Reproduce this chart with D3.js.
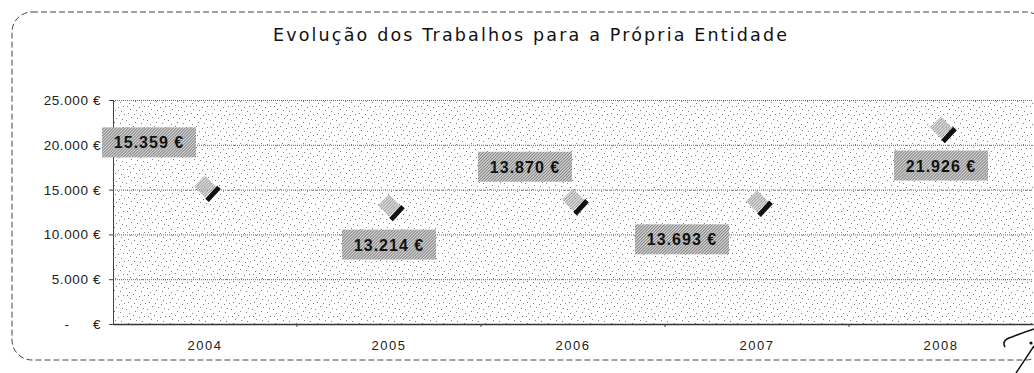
<!DOCTYPE html>
<html>
<head>
<meta charset="utf-8">
<script src="https://cdn.jsdelivr.net/npm/d3@7"></script>
<style>
  html, body { margin: 0; padding: 0; background: #fff; }
  svg { display: block; }
</style>
</head>
<body>
<svg id="chart" width="1034" height="373"></svg>
<script>
// Trabalhos para a própria entidade, por ano (euros)
const categories = ["2004", "2005", "2006", "2007", "2008"];
const values = [15359, 13214, 13870, 13693, 21926];
const yTicks = [0, 5000, 10000, 15000, 20000, 25000];
const titleText = "Evolução dos Trabalhos para a Própria Entidade";

// where each value label sits relative to its marker (px)
const labelShift = [[-56, -44], [0, 39], [-48, -33], [-75, 38], [0, 38]];

const svg = d3.select("#chart");
const plot = { left: 113, right: 1033, top: 100, bottom: 324 };

const fmt = v => v === 0 ? "-" : d3.format(",")(v).replace(/,/g, ".");

// halftone textures
const defs = svg.append("defs");
const stippleDots = [
  [1, 1], [7, 0], [13, 2], [18, 1], [4, 4], [10, 5], [16, 6], [2, 8], [8, 9],
  [14, 10], [19, 9], [5, 12], [11, 13], [17, 14], [0, 15], [9, 17], [15, 18], [3, 19]
];
const light = defs.append("pattern").attr("id", "stipple").attr("width", 21).attr("height", 21)
  .attr("patternUnits", "userSpaceOnUse");
light.append("rect").attr("width", 21).attr("height", 21).attr("fill", "#fff");
stippleDots.forEach(([x, y]) =>
  light.append("rect").attr("x", x).attr("y", y).attr("width", 1).attr("height", 1).attr("fill", "#808080"));

const dense = defs.append("pattern").attr("id", "screen").attr("width", 3).attr("height", 3)
  .attr("patternUnits", "userSpaceOnUse");
dense.append("rect").attr("width", 3).attr("height", 3).attr("fill", "#d0d0d0");
[[0, 0], [2, 1], [1, 2]].forEach(([x, y]) =>
  dense.append("rect").attr("x", x).attr("y", y).attr("width", 1).attr("height", 1).attr("fill", "#707070"));

// rounded dashed frame
svg.append("rect")
  .attr("x", 12).attr("y", 12).attr("width", 1034).attr("height", 348)
  .attr("rx", 20).attr("ry", 20)
  .attr("fill", "none").attr("stroke", "#444").attr("stroke-width", 1)
  .attr("stroke-dasharray", "6,3");

// title
svg.append("text")
  .attr("x", 530).attr("y", 41)
  .attr("text-anchor", "middle")
  .attr("font-family", "'DejaVu Sans', sans-serif")
  .attr("font-size", 17.5)
  .attr("textLength", 514).attr("lengthAdjust", "spacing")
  .attr("fill", "#111")
  .text(titleText);

const x = d3.scaleBand().domain(categories).range([plot.left, plot.right]);
const y = d3.scaleLinear().domain([0, 25000]).range([plot.bottom, plot.top]);

// plot background
svg.append("rect")
  .attr("x", plot.left).attr("y", plot.top)
  .attr("width", plot.right - plot.left).attr("height", plot.bottom - plot.top)
  .attr("fill", "url(#stipple)");

// gridlines
svg.append("g").selectAll("line").data(yTicks.filter(d => d > 0)).join("line")
  .attr("x1", plot.left).attr("x2", plot.right)
  .attr("y1", d => y(d) + 0.5).attr("y2", d => y(d) + 0.5)
  .attr("stroke", "#666").attr("stroke-dasharray", "1,1");

// y axis
const yAxis = svg.append("g").attr("transform", `translate(${plot.left},0)`)
  .call(d3.axisLeft(y).tickValues(yTicks).tickSize(4).tickFormat(() => ""));
yAxis.select(".domain").attr("stroke", "#444");
yAxis.selectAll(".tick line").attr("stroke", "#444");
const tickFont = { family: "'Liberation Sans', Arial, sans-serif", size: 13.5 };
const yl = svg.append("g")
  .attr("font-family", tickFont.family).attr("font-size", tickFont.size)
  .attr("letter-spacing", 0.6).attr("fill", "#222");
yTicks.forEach(t => {
  if (t === 0) {
    yl.append("text").attr("x", 67).attr("y", y(t) + 5).attr("text-anchor", "middle").text(fmt(t));
    yl.append("text").attr("x", 101).attr("y", y(t) + 5).attr("text-anchor", "end").text("€");
  } else {
    yl.append("text").attr("x", 101).attr("y", y(t) + 5).attr("text-anchor", "end").text(fmt(t) + " €");
  }
});

// x axis
const xAxis = svg.append("g").attr("transform", `translate(0,${plot.bottom})`)
  .call(d3.axisBottom(x).tickSize(0).tickPadding(17));
xAxis.select(".domain").attr("stroke", "#333").attr("stroke-width", 1.5);
xAxis.selectAll(".tick text")
  .attr("font-family", tickFont.family)
  .attr("font-size", 13).attr("letter-spacing", 1.5).attr("fill", "#222");
// ticks between categories
svg.append("g").selectAll("line").data(categories.slice(1)).join("line")
  .attr("x1", d => x(d)).attr("x2", d => x(d))
  .attr("y1", plot.bottom).attr("y2", plot.bottom + 3)
  .attr("stroke", "#444");

// diamond markers
const pts = categories.map((c, i) => ({ c, v: values[i], cx: x(c) + x.bandwidth() / 2, cy: y(values[i]), i }));
const mk = svg.append("g").selectAll("g").data(pts).join("g")
  .attr("transform", d => `translate(${d.cx},${d.cy})`);
const r = 11;
mk.append("path")
  .attr("d", `M0,${-r}L${r},0L0,${r}L${-r},0Z`)
  .attr("fill", "url(#screen)").attr("opacity", 0.75);
mk.append("line")
  .attr("x1", r + 3).attr("y1", 1).attr("x2", 2).attr("y2", r + 3)
  .attr("stroke", "#111").attr("stroke-width", 5);

// value labels
const lab = svg.append("g").selectAll("g").data(pts).join("g")
  .attr("transform", d => `translate(${d.cx + labelShift[d.i][0]},${d.cy + labelShift[d.i][1]})`);
lab.append("rect")
  .attr("x", -47).attr("y", -15).attr("width", 94).attr("height", 30)
  .attr("fill", "url(#screen)");
lab.append("text")
  .attr("text-anchor", "middle").attr("y", 6)
  .attr("font-family", "'Liberation Sans', Arial, sans-serif")
  .attr("font-weight", "bold").attr("font-size", 16).attr("letter-spacing", 1)
  .attr("fill", "#111")
  .text(d => fmt(d.v) + " €");

// pen mark in the corner
svg.append("path")
  .attr("d", "M1005,347 Q1001,340 1012,337 Q1022,333 1034,329")
  .attr("fill", "none").attr("stroke", "#111").attr("stroke-width", 1.6);
svg.append("circle").attr("cx", 1031).attr("cy", 343).attr("r", 1.6).attr("fill", "#111");
svg.append("path")
  .attr("d", "M1034,346 L1016,373")
  .attr("fill", "none").attr("stroke", "#111").attr("stroke-width", 1.5);
</script>
</body>
</html>
